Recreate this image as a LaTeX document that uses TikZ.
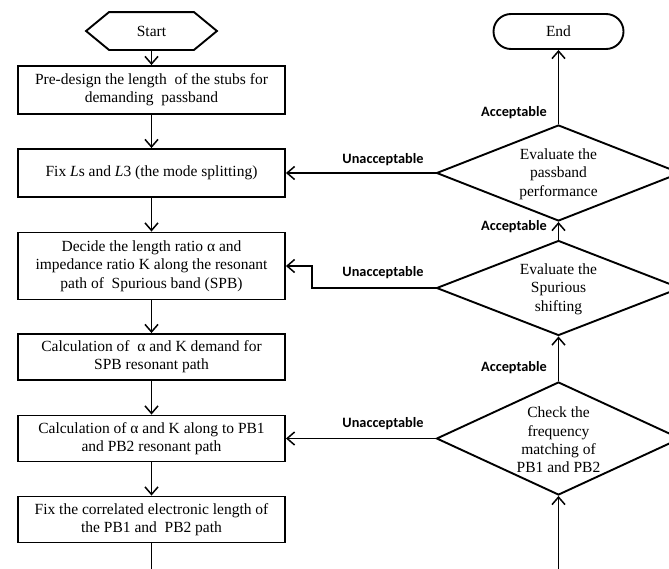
\documentclass[tikz,border=0pt]{standalone}
\usepackage{fontspec}
\setmainfont{Liberation Serif}
\newfontfamily\lblfont{Carlito}
\usetikzlibrary{arrows.meta,calc,shapes.geometric}
\begin{document}
\begin{tikzpicture}[x=1pt,y=-1pt,
  line width=1.9pt,
  every node/.style={font=\fontsize{15.5}{18.3}\selectfont},
  procbox/.style={draw,minimum width=267pt,inner sep=0pt,align=center,line width=1.9pt},
  decbox/.style={draw,diamond,minimum width=244pt,inner sep=0pt,line width=1.9pt},
  dectext/.style={align=center,inner sep=0pt},
  lbl/.style={font=\lblfont\bfseries\fontsize{14.3}{16}\selectfont,inner sep=0pt},
  arr/.style={-{Straight Barb[length=7.5pt,width=13pt,line width=1.5pt]}}]
\useasboundingbox (0,0) rectangle (669,568);
\fill[white] (0,0) rectangle (669,568);
\clip (0,0) rectangle (669,568);

% start hexagon
\node (start) [minimum width=129pt,minimum height=36pt,inner sep=0pt] at (151.5,31) {Start};
\draw (start.west) -- ([xshift=23pt]start.north west) -- ([xshift=-23pt]start.north east)
  -- (start.east) -- ([xshift=-23pt]start.south east) -- ([xshift=23pt]start.south west) -- cycle;

% end
\node (end) [draw,rounded corners=17.5pt,minimum width=130pt,minimum height=35pt,inner sep=0pt] at (558.5,31.5) {End};

% process boxes
\node (b1) [procbox,minimum height=48pt] at (151.5,90) {Pre-design the length\ \ of the stubs for\\demanding\ \ passband};
\node (b2) [procbox,minimum height=48pt] at (151.5,173) {Fix \textit{L}s and \textit{L}3 (the mode splitting)};
\node (b3) [procbox,minimum height=67pt] at (151.5,266) {Decide the length ratio α and\\impedance ratio K along the resonant\\path of\ \ Spurious band (SPB)};
\node (b4) [procbox,minimum height=46pt] at (151.5,357) {Calculation of\ \ α and K demand for\\SPB resonant path};
\node (b5) [procbox,minimum height=46pt] at (151.5,438.5) {Calculation of α and K along to PB1\\and PB2 resonant path};
\node (b6) [procbox,minimum height=46pt] at (151.5,519.5) {Fix the correlated electronic length of\\the PB1 and\ \ PB2 path};

% decisions
\node (d1) [decbox,minimum height=96pt] at (558.5,173) {};
\node (t1) [dectext] at (558.5,174) {Evaluate the\\passband\\performance};
\node (d2) [decbox,minimum height=95pt] at (558.5,288) {};
\node (t2) [dectext] at (558.5,289) {Evaluate the\\Spurious\\shifting};
\node (d3) [decbox,minimum height=113pt] at (558.5,438.5) {};
\node (t3) [dectext] at (558.5,440) {Check the\\frequency\\matching of\\PB1 and PB2};

% connectors (main column)
\draw[arr] (start) -- (b1);
\draw[arr] (b1) -- (b2);
\draw[arr] (b2) -- (b3);
\draw[arr] (b3) -- (b4);
\draw[arr] (b4) -- (b5);
\draw[arr] (b5) -- (b6);

% loop from bottom to d3 (continues below the visible area)
\coordinate (lowturn) at (355,600);
\draw[arr] (b6.south) |- (lowturn) -| (d3.south);

% right column
\draw[arr] (d3.north) -- (d2.south);
\draw[arr] (d2.north) -- (d1.south);
\draw[arr] (d1.north) -- (end.south);

% unacceptable loops
\draw[arr] (d1.west) -- (b2.east);
\coordinate (k2) at (312,288);
\draw[arr] (d2.west) -- (k2) |- (b3.east);
\draw[arr] (d3.west) -- (b5.east);

% labels
\node (a1) [lbl] at (514,113) {Acceptable};
\node (a2) [lbl] at (514,227) {Acceptable};
\node (a3) [lbl] at (514,368) {Acceptable};
\node (u1) [lbl] at (383,160) {Unacceptable};
\node (u2) [lbl] at (383,273) {Unacceptable};
\node (u3) [lbl] at (383,424) {Unacceptable};
\end{tikzpicture}
\end{document}
